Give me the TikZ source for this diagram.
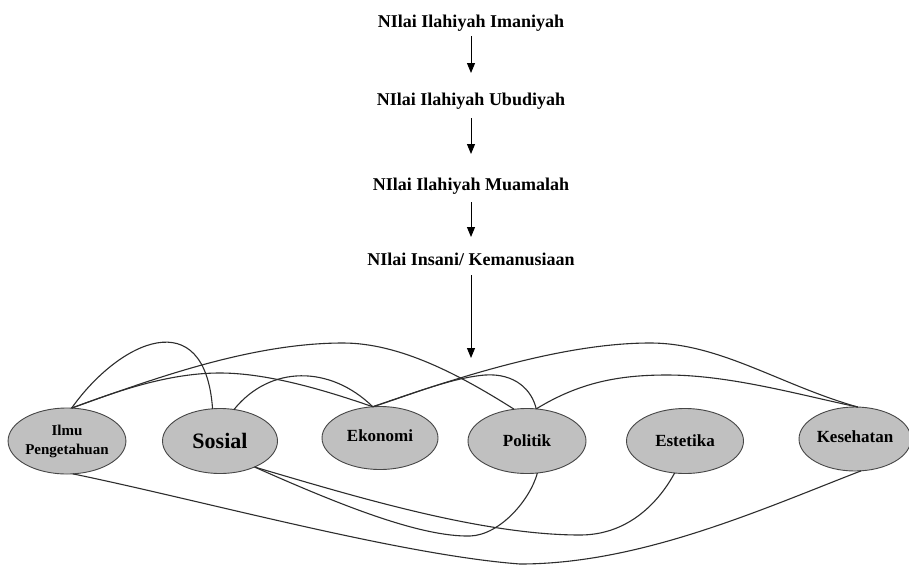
\documentclass[tikz,border=0pt]{standalone}
\usepackage{fontspec}
\setmainfont{Liberation Serif}
\usetikzlibrary{shapes.geometric,arrows.meta}
\definecolor{ellfill}{RGB}{192,192,192}
\definecolor{ellline}{RGB}{70,70,70}
\definecolor{curvecol}{RGB}{45,45,45}
\begin{document}
\begin{tikzpicture}[x=1pt,y=-1pt,
  toptext/.style={anchor=base,inner sep=0pt,outer sep=0pt,text height=13pt,text depth=4pt,
    font=\fontsize{18pt}{20pt}\selectfont\bfseries},
  arr/.style={draw=black,line width=1pt,-{Triangle[length=10pt,width=8pt]}},
  oval/.style={ellipse,draw=ellline,fill=ellfill,line width=0.9pt,inner sep=0pt,outer sep=0pt,
    align=center,font=\fontsize{17pt}{19pt}\selectfont\bfseries},
  link/.style={draw=curvecol,line width=1.1pt}]
\useasboundingbox[fill=white] (0,0) rectangle (909,565);

% top chain
\node[toptext] (t1) at (471,27) {NIlai Ilahiyah Imaniyah};
\node[toptext] (t2) at (471,105) {NIlai Ilahiyah Ubudiyah};
\node[toptext] (t3) at (471,190) {NIlai Ilahiyah Muamalah};
\node[toptext] (t4) at (471,265) {NIlai Insani/ Kemanusiaan};
\coordinate (tip) at (471,358);

\draw[arr,shorten <=5pt,shorten >=19pt] (t1) -- (t2);
\draw[arr,shorten <=9pt,shorten >=23pt] (t2) -- (t3);
\draw[arr,shorten <=8pt,shorten >=15pt] (t3) -- (t4);
\draw[arr,shorten <=6pt] (t4) -- (tip);

% ellipses
\node[oval,minimum width=117pt,minimum height=66pt,font=\fontsize{15pt}{17pt}\selectfont\bfseries] (ilmu) at (67,441) {Ilmu\\[2pt]Pengetahuan};
\node[oval,minimum width=115pt,minimum height=65pt,font=\fontsize{22pt}{24pt}\selectfont\bfseries] (sosial) at (220,441) {Sosial};
\node[oval,minimum width=116pt,minimum height=63pt] (ekonomi) at (380,438) {\raisebox{4pt}{Ekonomi}};
\node[oval,minimum width=118pt,minimum height=65pt] (politik) at (527,441) {Politik};
\node[oval,minimum width=117pt,minimum height=65pt] (estetika) at (685,441) {Estetika};
\node[oval,minimum width=112pt,minimum height=64pt] (kesehatan) at (855,439) {\raisebox{5pt}{Kesehatan}};

% upper connectors
\draw[link] (ilmu.82) .. controls (120,340) and (205,302) .. (sosial.103);
\draw[link] (ilmu.82) .. controls (120,390) and (170,373) .. (220,373)
                      .. controls (270,373) and (330,392) .. (ekonomi.103);
\draw[link] (ilmu.82) .. controls (150,380) and (250,343) .. (343,343)
                      .. controls (400,343) and (460,375) .. (politik.112);
\draw[link] (sosial.66) .. controls (270,365) and (330,365) .. (ekonomi.103);
\draw[link] (ekonomi.103) .. controls (450,380) and (560,343) .. (650,343)
                      .. controls (720,343) and (780,385) .. (kesehatan.85);
\draw[link] (ekonomi.103) .. controls (410,395) and (450,378) .. (485,375)
                      .. controls (515,373) and (532,390) .. (politik.74);
\draw[link] (politik.74) .. controls (580,382) and (620,375) .. (667,375)
                      .. controls (730,375) and (800,395) .. (kesehatan.85);

% lower connectors
\draw[link] (ilmu.-80) .. controls (200,500) and (400,555) .. (520,564)
                      .. controls (640,564) and (760,510) .. (kesehatan.281);
\draw[link] (sosial.-37) .. controls (350,495) and (480,535) .. (580,535)
                      .. controls (630,535) and (660,500) .. (estetika.252);
\draw[link] (sosial.-37) .. controls (340,505) and (420,537) .. (470,536)
                      .. controls (500,535) and (530,500) .. (politik.-72);
\end{tikzpicture}
\end{document}
